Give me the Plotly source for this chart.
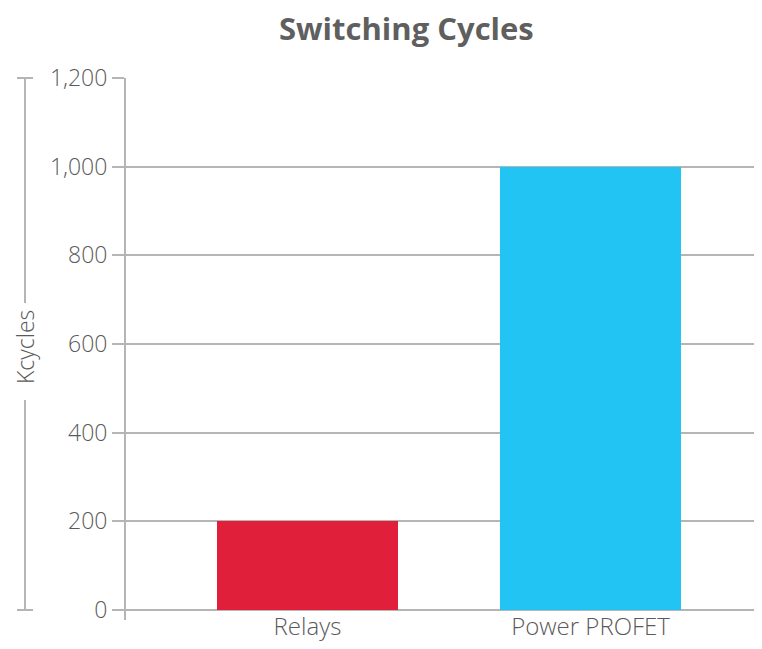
import plotly.graph_objects as go

# data
categories = ["Relays", "Power PROFET"]
kcycles = [200, 1000]
bar_colors = ["#E01F3A", "#22C4F4"]
y_ticks = [0, 200, 400, 600, 800, 1000, 1200]

# page body has an 8px margin, so the figure is drawn 8px in from the window edge
OFF = 8
W, H = 762 - 2 * OFF, 649 - 2 * OFF
L, R, T, B = 125 - OFF, 0, 78 - OFF, 39 - OFF
plot_w = W - L - R
plot_h = H - T - B
grid = "#b5b5b5"
txt = "#5a5a5a"

fig = go.Figure()
fig.add_trace(go.Bar(
    x=[0, 1], y=kcycles,
    marker=dict(color=bar_colors, line_width=0),
    width=0.64,
    hoverinfo="x+y",
))

# helpers: window pixel -> paper coords
def px_x(px):
    return (px - OFF - L) / plot_w

def px_y(py):
    return (H - B - (py - OFF)) / plot_h

# vertical axis line extending slightly below zero
fig.add_shape(type="line", xref="paper", yref="paper",
              x0=0, x1=0, y0=px_y(620), y1=1,
              line=dict(color=grid, width=2))

# left bracket around the y title
bx = px_x(25)
for y0, y1 in [(78, 303), (400, 610)]:
    fig.add_shape(type="line", xref="paper", yref="paper",
                  x0=bx, x1=bx, y0=px_y(y1), y1=px_y(y0),
                  line=dict(color=grid, width=2))
for yc in [78, 610]:
    fig.add_shape(type="line", xref="paper", yref="paper",
                  x0=px_x(17), x1=px_x(33), y0=px_y(yc), y1=px_y(yc),
                  line=dict(color=grid, width=2))

fig.add_annotation(x=bx, y=px_y(347), xref="paper", yref="paper",
                   xanchor="center", yanchor="middle",
                   text="Kcycles", textangle=-90, showarrow=False,
                   font=dict(size=23, color=txt, family="Open Sans", weight=300))

fig.add_annotation(x=px_x(406), y=px_y(28), xref="paper", yref="paper",
                   xanchor="center", yanchor="middle",
                   text="<b>Switching Cycles</b>", showarrow=False,
                   font=dict(size=31, color="#5f5f5f", family="Open Sans"))

k = 283  # pixels per category
r0 = -(307.5 - 125) / k

fig.update_layout(
    width=W, height=H,
    margin=dict(l=L, r=R, t=T, b=B),
    plot_bgcolor="white", paper_bgcolor="white",
    showlegend=False,
    bargap=0,
    font=dict(family="Open Sans", color=txt),
    xaxis=dict(
        range=[r0, r0 + plot_w / k],
        tickvals=[0, 1], ticktext=categories,
        showgrid=False, zeroline=False, showline=False,
        ticks="", tickfont=dict(size=24, color=txt, weight=300),
        fixedrange=True,
    ),
    yaxis=dict(
        range=[0, 1200],
        tickvals=y_ticks, tickformat=",",
        showgrid=True, gridcolor=grid, gridwidth=2,
        zeroline=True, zerolinecolor=grid, zerolinewidth=2,
        showline=False,
        ticks="outside", ticklen=12, tickcolor=grid, tickwidth=2,
        tickfont=dict(size=23, color=txt, weight=300),
        fixedrange=True,
    ),
)

fig.write_html("out.html")
